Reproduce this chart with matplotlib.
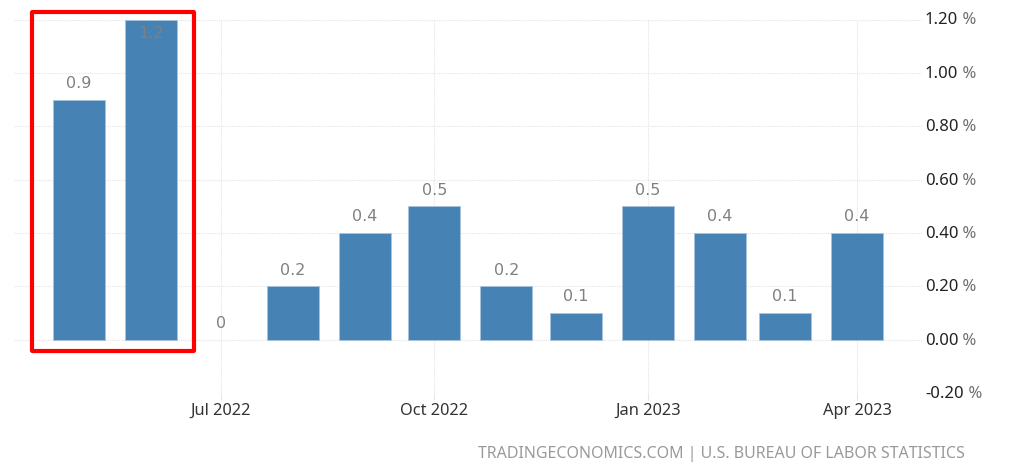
import matplotlib
matplotlib.use("Agg")
import matplotlib.pyplot as plt
from matplotlib.patches import FancyBboxPatch
from datetime import date, timedelta

plt.rcParams['font.family'] = ['Noto Sans', 'DejaVu Sans']

months = [date(2022,5,1), date(2022,6,1), date(2022,7,1), date(2022,8,1), date(2022,9,1), date(2022,10,1),
          date(2022,11,1), date(2022,12,1), date(2023,1,1), date(2023,2,1), date(2023,3,1), date(2023,4,1)]
values = [0.9, 1.2, 0, 0.2, 0.4, 0.5, 0.2, 0.1, 0.5, 0.4, 0.1, 0.4]
labels = ['0.9', '1.2', '0', '0.2', '0.4', '0.5', '0.2', '0.1', '0.5', '0.4', '0.1', '0.4']
y_ticks = [-0.2, 0.0, 0.2, 0.4, 0.6, 0.8, 1.0, 1.2]
x_ticks = [date(2022,7,1), date(2022,10,1), date(2023,1,1), date(2023,4,1)]
source = 'TRADINGECONOMICS.COM | U.S. BUREAU OF LABOR STATISTICS'

W, H = 1024, 468
fig = plt.figure(figsize=(W/100, H/100), dpi=100)
L, R, T, B = 14, 922, 19.5, 393
ax = fig.add_axes([L/W, 1-B/H, (R-L)/W, (B-T)/H])

px_per_day = 635/274
x0 = date(2022,7,1) - timedelta(days=(221-L)/px_per_day)
x1 = date(2022,7,1) + timedelta(days=(R-221)/px_per_day)
ax.set_xlim(x0, x1)
ax.set_ylim(-0.2, 1.2)

bars = ax.bar(months, values, width=22.4, color='#4682b4', edgecolor='#a9c4dc', linewidth=0.6, zorder=2)
for b, v in zip(bars, values):
    if v == 0:
        b.set_visible(False)

for m, v, s in zip(months, values, labels):
    inside = v >= 1.2
    ax.annotate(s, (m, v), xytext=(0, -14 if inside else 16), textcoords='offset pixels',
                ha='center', va='center', fontsize=11.5, color='#808080', family='DejaVu Sans',
                zorder=3, annotation_clip=False)

ax.set_yticks(y_ticks)
ax.set_yticklabels([])
ax.set_xticks(x_ticks)
ax.set_xticklabels([d.strftime('%b %Y') for d in x_ticks], fontsize=11.8, color='#333333')
ax.tick_params(axis='x', length=5, color='#e6e6e6', pad=2, width=0.8)
ax.tick_params(axis='y', length=0)
for s in ax.spines.values():
    s.set_visible(False)
ax.set_axisbelow(True)
ax.grid(True, color='#e4e4e4', linewidth=0.8, linestyle=(0, (1, 1)))

for t in y_ticks:
    lab = ax.annotate(f'{t:.2f}', (1, t), xycoords=ax.get_yaxis_transform(), xytext=(3, -1), textcoords='offset pixels',
                      ha='left', va='center', fontsize=12, color='#222222', annotation_clip=False)
    ax.annotate(' %', (1, 0.5), xycoords=lab, ha='left', va='center', fontsize=12, color='#707070', annotation_clip=False)

rect = FancyBboxPatch((32/W, 1-351/H), (194-32)/W, (351-12)/H, boxstyle='round,pad=0,rounding_size=0.001',
                      transform=fig.transFigure, fill=False, edgecolor='#ff0000', linewidth=3, zorder=5)
fig.add_artist(rect)

fig.text(965/W, 1-453.5/H, source, ha='right', va='center', fontsize=11.5, color='#9a9a9a')

fig.savefig('out.png', dpi=100)
